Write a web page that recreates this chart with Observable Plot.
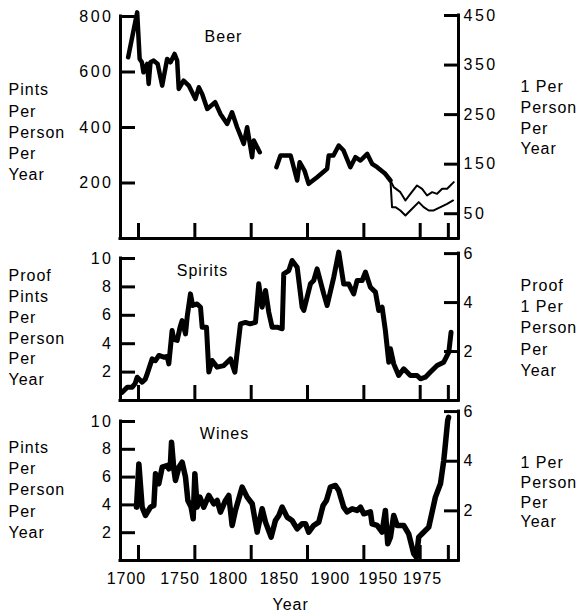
<!DOCTYPE html>
<html><head><meta charset="utf-8">
<script src="https://cdn.jsdelivr.net/npm/d3@7"></script>
<script src="https://cdn.jsdelivr.net/npm/@observablehq/plot@0.6"></script>
<style>
body{margin:0;background:#fff;}
#chart{position:relative;width:577px;height:613px;font-family:"Liberation Sans",Arial,Helvetica,sans-serif;}
#chart svg{position:absolute;left:0;}
#chart svg text{letter-spacing:1px;}
#chart g[aria-label="y-axis tick label"] text{letter-spacing:2.5px;}
#chart g[aria-label="year-labels"] text{letter-spacing:2px;}
</style></head><body><div id="chart"></div>
<script>
// ---- x axis ----
const xDomain = [1684, 1984];
const xTicks = [1700, 1750, 1800, 1850, 1900, 1950, 1975];
const xLabels = ["1700", "1750", "1800", "1850", "1900", "1950", "1975"];
const xLabelAt = [1689.3, 1736.8, 1779.8, 1825.1, 1870.3, 1912.9, 1952];

// ---- Beer (pints per person per year) ----
const beerYears = [1690.8,1698.8,1701,1703,1704.4,1707.7,1709,1710.6,1713.5,1717,1721,1725.4,1728.4,1732,1734.3,1735.7,1740,1744.6,1750.5,1753.5,1756.5,1761,1768,1772.7,1778.7,1783,1787.5,1793.4,1796.4,1800.8,1802.3,1807.6,1815,1822.4,1826,1835,1840.8,1843,1847.3,1851,1858.5,1867.4,1868.8,1873,1877.7,1882,1888,1892.5,1897,1903,1907.3,1911.8,1919,1923.6];
const beerPints = [653,815,647,635,599,629,557,635,641,629,551,647,635,665,641,539,569,551,503,545,521,467,491,449,413,455,401,341,401,293,353,311,null,257,299,299,209,275,245,197,221,251,299,299,335,317,257,293,281,305,269,257,233,209];
const beerUpperYears = [1923.6,1926.5,1932.4,1936.9,1941.3,1947.2,1951.7,1956.1,1960.6,1965,1969.5,1973.9,1979.8];
const beerUpperPints = [209,185,167,137,161,191,179,155,167,161,179,179,203];
const beerLowerYears = [1923.6,1925,1928,1932.4,1936.9,1941.3,1948.7,1953.1,1957.6,1962,1968,1973.9,1979.2];
const beerLowerPints = [209,113,113,101,83,101,131,113,101,101,113,125,137];
const beerLeftTicks = [200, 400, 600, 800];
const beerRightTicks = [50, 150, 250, 350, 450];

// ---- Spirits (proof pints per person per year) ----
const spiritsYears = [1685.5,1690,1694.4,1697,1698.8,1703.2,1706,1707.7,1712.1,1715,1718,1722.4,1725.4,1726.9,1729.8,1731.3,1734.3,1737,1738.7,1741.7,1743.2,1746.1,1748,1752,1755,1756.5,1760.3,1762.4,1765.3,1769.8,1775.7,1781.6,1785.5,1790.5,1794.9,1799,1803.8,1806.7,1809.7,1812.7,1815.6,1818.6,1823,1827.5,1828.9,1833.4,1836.3,1840.8,1845.2,1846.7,1852.6,1855.5,1858.5,1864.4,1867.4,1873.3,1877.7,1882.1,1886.6,1891,1894,1898.5,1901.4,1905.8,1910.3,1913.2,1916.2,1919.1,1922.1,1923.6,1926.5,1930.9,1935.4,1941.3,1947.2,1950.2,1954.6,1959.1,1965,1970.9,1975.4,1977.4];
const spiritsPints = [0.58,0.94,0.94,1.2,1.64,1.29,1.5,1.88,2.93,2.8,3.17,3.05,3.1,2.58,4.93,4.3,4.23,5.2,5.63,4.69,5.9,7.51,6.69,6.8,6.57,5.16,5.16,2.0,2.82,2.35,2.46,2.93,2.0,5.4,5.5,5.4,5.5,8.22,6.57,7.75,6.22,5.16,5.16,5.05,8.92,9.15,9.86,9.39,6.57,6.34,8.22,8.45,9.27,7.51,6.69,8.69,10.45,8.2,8.2,7.5,8.45,8.45,9.04,7.98,7.63,6.34,6.57,4.93,2.7,3.64,2.58,1.76,2.23,1.76,1.76,1.53,1.64,2.0,2.46,2.7,3.4,4.8];
const spiritsLeftTicks = [2, 4, 6, 8, 10];
const spiritsRightTicks = [2, 4, 6];

// ---- Wines (pints per person per year) ----
const winesYears = [1698.2,1700.3,1703.2,1706.2,1710.6,1713.6,1715.1,1718,1721,1725.4,1726.9,1728.4,1729.3,1731.3,1732.8,1735.8,1738.7,1741.7,1743.8,1746.7,1748.5,1750,1752,1754.4,1757.9,1762.4,1766.8,1769.8,1772.7,1777.2,1780.1,1783.1,1786,1792,1796.4,1800.9,1805.3,1809.7,1812.7,1817.7,1821.5,1824.5,1827.5,1831.9,1836.3,1840.8,1845.2,1848.2,1851.1,1855.5,1860,1863.8,1866.8,1870.3,1874.8,1877.7,1882.1,1885.1,1889.6,1894,1897,1899.9,1905.8,1907.3,1911.8,1916.2,1919.1,1921.2,1923.6,1926.5,1929.5,1935.4,1939.8,1944.3,1946.7,1948.7,1951.7,1957.6,1963.5,1968,1970.9,1972.4,1974.4,1975.2];
const winesPints = [3.84,6.95,3.84,3.24,3.84,3.96,6.24,5.52,6.71,6.83,6.6,7.07,8.51,6.6,5.76,6.71,7.07,6.0,4.32,3.84,3.0,6.24,3.84,4.56,3.84,4.68,4.08,4.32,3.48,4.32,4.68,2.52,3.6,5.28,4.56,4.08,2.04,3.72,2.76,1.68,2.88,3.24,3.84,3.12,2.88,2.28,2.64,2.64,2.04,2.52,2.76,3.96,4.32,5.28,5.4,5.04,3.84,3.5,3.72,3.6,3.84,3.36,3.5,2.64,2.52,2.04,3.6,1.2,1.68,3.24,2.52,2.52,1.92,0.48,0.24,1.68,1.92,2.4,4.56,5.52,7.19,8.39,10.07,10.3];
const winesLeftTicks = [2, 4, 6, 8, 10];
const winesRightTicks = [2, 4, 6];

// litres per pint
const beerFactor = 0.56, spiritsFactor = 0.58, winesFactor = 0.56;

const pairs = (xs, ys) => xs.map((x, i) => ({year: x, v: ys[i]}));

function panel(o) {
  const rightMax = d3.max(o.rightTicks) / o.factor;
  const marks = [
    Plot.ruleY([0], {stroke: "#000", strokeWidth: 3, strokeLinecap: "square"}),
    Plot.ruleX([xDomain[0]], {y1: 0, y2: d3.max(o.leftTicks), stroke: "#000", strokeWidth: 3, strokeLinecap: "square"}),
    Plot.ruleX([xDomain[1]], {y1: 0, y2: rightMax, stroke: "#000", strokeWidth: 3, strokeLinecap: "square"}),
    Plot.axisY(o.leftTicks, {anchor: "left", tickSize: -15, tickPadding: 22, strokeWidth: 3, fontSize: 16, label: null}),
    Plot.axisY(o.rightTicks.map(t => t / o.factor), {anchor: "right", tickSize: -15, tickPadding: 20, strokeWidth: 3, fontSize: 16, label: null,
      tickFormat: d => String(Math.round(d * o.factor))}),
    Plot.axisX(xTicks, {anchor: "bottom", tickSize: -15, strokeWidth: 3, tickFormat: () => "", label: null}),
    ...o.lines,
    Plot.text([o.title], {frameAnchor: "top-left", dx: o.titleDx, dy: o.titleDy, fontSize: 16, textAnchor: "middle", lineAnchor: "middle"}),
    Plot.text([o.leftText], {frameAnchor: "top-left", dx: -112, dy: o.leftDy, fontSize: 16, textAnchor: "start", lineAnchor: "middle", lineHeight: o.leftLH}),
    Plot.text([o.rightText], {frameAnchor: "top-right", dx: 62, dy: o.rightDy, fontSize: 16, textAnchor: "start", lineAnchor: "middle", lineHeight: o.rightLH}),
    ...(o.extra || [])
  ];
  const svg = Plot.plot({
    width: 577, height: o.height,
    marginLeft: 120, marginRight: 119, marginTop: o.marginTop, marginBottom: o.marginBottom,
    x: {domain: xDomain, label: null},
    y: {domain: [0, o.yMax], label: null},
    style: {background: "transparent", overflow: "visible", fontFamily: "Liberation Sans, Arial, Helvetica, sans-serif", fontSize: "16px", color: "#000"},
    marks
  });
  svg.style.top = o.top + "px";
  return svg;
}

const chart = document.getElementById("chart");

chart.appendChild(panel({
  top: 0, height: 240, marginTop: 16, marginBottom: 2, yMax: 800,
  leftTicks: beerLeftTicks, rightTicks: beerRightTicks, factor: beerFactor,
  lines: [
    Plot.line(pairs(beerYears, beerPints), {x: "year", y: "v", stroke: "#000", strokeWidth: 4.5, strokeLinejoin: "round"}),
    Plot.line(pairs(beerUpperYears, beerUpperPints), {x: "year", y: "v", stroke: "#000", strokeWidth: 2, strokeLinejoin: "round"}),
    Plot.line(pairs(beerLowerYears, beerLowerPints), {x: "year", y: "v", stroke: "#000", strokeWidth: 2, strokeLinejoin: "round"})
  ],
  title: "Beer", titleDx: 103, titleDy: 20,
  leftText: "Pints\nPer\nPerson\nPer\nYear", leftDy: 114.5, leftLH: 1.33,
  rightText: "1 Per\nPerson\nPer\nYear", rightDy: 100, rightLH: 1.3
}));

chart.appendChild(panel({
  top: 240, height: 162, marginTop: 18, marginBottom: 2, yMax: 10,
  leftTicks: spiritsLeftTicks, rightTicks: spiritsRightTicks, factor: spiritsFactor,
  lines: [
    Plot.line(pairs(spiritsYears, spiritsPints), {x: "year", y: "v", stroke: "#000", strokeWidth: 5, strokeLinejoin: "round"})
  ],
  title: "Spirits", titleDx: 82, titleDy: 12,
  leftText: "Proof\nPints\nPer\nPerson\nPer\nYear", leftDy: 68, leftLH: 1.3,
  rightText: "Proof\n1 Per\nPerson\nPer\nYear", rightDy: 68, rightLH: 1.33
}));

chart.appendChild(panel({
  top: 402, height: 211, marginTop: 19, marginBottom: 53, yMax: 10,
  leftTicks: winesLeftTicks, rightTicks: winesRightTicks, factor: winesFactor,
  lines: [
    Plot.line(pairs(winesYears, winesPints), {x: "year", y: "v", stroke: "#000", strokeWidth: 5.5, strokeLinejoin: "round"})
  ],
  title: "Wines", titleDx: 104, titleDy: 12,
  leftText: "Pints\nPer\nPerson\nPer\nYear", leftDy: 67, leftLH: 1.33,
  rightText: "1 Per\nPerson\nPer\nYear", rightDy: 70, rightLH: 1.22,
  extra: [
    Plot.text(xLabels, {x: (d, i) => xLabelAt[i], frameAnchor: "bottom", dy: 18, fontSize: 16, lineAnchor: "middle", ariaLabel: "year-labels"}),
    Plot.text(["Year"], {frameAnchor: "bottom-left", dx: 152, dy: 44, fontSize: 16, lineAnchor: "middle"})
  ]
}));
</script></body></html>
